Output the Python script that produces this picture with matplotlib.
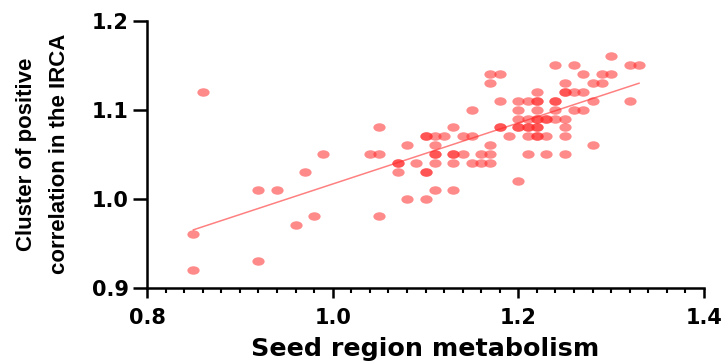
import numpy as np
import matplotlib
matplotlib.use("Agg")
import matplotlib.pyplot as plt
from matplotlib.path import Path
from matplotlib.transforms import Affine2D
from matplotlib.ticker import MultipleLocator, FormatStrFormatter

# Seed region metabolism (x) and cluster of positive correlation in the IRCA (y)
x_vals = [0.85, 0.85, 0.86, 0.92, 0.92, 0.94, 0.96, 0.98, 0.97, 0.99,
          1.04, 1.05, 1.05, 1.05,
          1.07, 1.07, 1.07, 1.08, 1.08, 1.09,
          1.10, 1.10, 1.10, 1.10, 1.10,
          1.11, 1.11, 1.11, 1.11, 1.11, 1.11,
          1.12,
          1.13, 1.13, 1.13, 1.13, 1.13,
          1.14, 1.14,
          1.15, 1.15, 1.15,
          1.16, 1.16,
          1.17, 1.17, 1.17, 1.17, 1.17,
          1.18, 1.18, 1.18, 1.18,
          1.19,
          1.20, 1.20, 1.20, 1.20, 1.20, 1.20,
          1.21, 1.21, 1.21, 1.21, 1.21, 1.21,
          1.22, 1.22, 1.22, 1.22, 1.22, 1.22, 1.22, 1.22, 1.22, 1.22,
          1.23, 1.23, 1.23, 1.23,
          1.24, 1.24, 1.24, 1.24, 1.24,
          1.25, 1.25, 1.25, 1.25, 1.25, 1.25, 1.25,
          1.26, 1.26, 1.26,
          1.27, 1.27, 1.27,
          1.28, 1.28, 1.28,
          1.29, 1.29,
          1.30, 1.30,
          1.32, 1.32,
          1.33]
y_vals = [0.92, 0.96, 1.12, 0.93, 1.01, 1.01, 0.97, 0.98, 1.03, 1.05,
          1.05, 1.05, 1.08, 0.98,
          1.04, 1.04, 1.03, 1.06, 1.00, 1.04,
          1.07, 1.07, 1.03, 1.03, 1.00,
          1.07, 1.06, 1.05, 1.05, 1.04, 1.01,
          1.07,
          1.08, 1.05, 1.05, 1.04, 1.01,
          1.07, 1.05,
          1.10, 1.07, 1.04,
          1.05, 1.04,
          1.14, 1.13, 1.06, 1.05, 1.04,
          1.14, 1.11, 1.08, 1.08,
          1.07,
          1.11, 1.10, 1.09, 1.08, 1.08, 1.02,
          1.11, 1.09, 1.08, 1.08, 1.07, 1.05,
          1.12, 1.11, 1.11, 1.10, 1.09, 1.09, 1.08, 1.08, 1.07, 1.07,
          1.09, 1.09, 1.07, 1.05,
          1.15, 1.11, 1.11, 1.10, 1.09,
          1.13, 1.12, 1.12, 1.09, 1.08, 1.07, 1.05,
          1.15, 1.12, 1.10,
          1.14, 1.12, 1.10,
          1.13, 1.11, 1.06,
          1.14, 1.13,
          1.16, 1.14,
          1.15, 1.11,
          1.15]

x_ticks = [0.8, 1.0, 1.2, 1.4]
y_ticks = [0.9, 1.0, 1.1, 1.2]
x_label = "Seed region metabolism"
y_label = "Cluster of positive\ncorrelation in the IRCA"

x = np.array(x_vals)
y = np.array(y_vals)

fig = plt.figure(figsize=(7.23, 3.61), dpi=100)
ax = fig.add_axes([147 / 723, 1 - 287.5 / 361, (704 - 147) / 723, (287.5 - 20.7) / 361])

# elliptical marker (wider than tall)
ell = Path.unit_circle().transformed(Affine2D().scale(1.0, 0.69))
ax.scatter(x, y, s=78, marker=ell, color="#ff2a2a", alpha=0.55, linewidths=0, zorder=3)

# linear regression line
slope, intercept = np.polyfit(x, y, 1)
xl = np.array([x.min(), x.max()])
ax.plot(xl, slope * xl + intercept, color="#ff8080", lw=1.1, zorder=2)

ax.set_xlim(0.8, 1.4)
ax.set_ylim(0.9, 1.2)
ax.set_xticks(x_ticks)
ax.set_yticks(y_ticks)
ax.xaxis.set_minor_locator(MultipleLocator(0.02))
ax.xaxis.set_major_formatter(FormatStrFormatter("%.1f"))
ax.yaxis.set_major_formatter(FormatStrFormatter("%.1f"))

for s in ["top", "right"]:
    ax.spines[s].set_visible(False)
for s in ["left", "bottom"]:
    ax.spines[s].set_linewidth(1.8)
    ax.spines[s].set_color("black")

ax.tick_params(axis="x", which="major", direction="out", length=7, width=1.8, pad=8)
ax.tick_params(axis="x", which="minor", direction="out", length=3.5, width=1.5)
ax.tick_params(axis="y", which="major", direction="out", length=10, width=1.8, pad=3)

for lab in ax.get_xticklabels() + ax.get_yticklabels():
    lab.set_fontfamily("DejaVu Sans")
    lab.set_fontweight("bold")
    lab.set_fontsize(15)

ax.set_xlabel(x_label, fontfamily="DejaVu Sans", fontweight="bold", fontsize=18.3)
ax.xaxis.set_label_coords(0.5, -0.185)
ax.set_ylabel(y_label, fontfamily="Liberation Sans", fontweight="bold", fontsize=16,
              linespacing=1.75, va="center", ha="center")
ax.yaxis.set_label_coords(-0.1867, 0.5)

fig.savefig("out.png", dpi=100)
